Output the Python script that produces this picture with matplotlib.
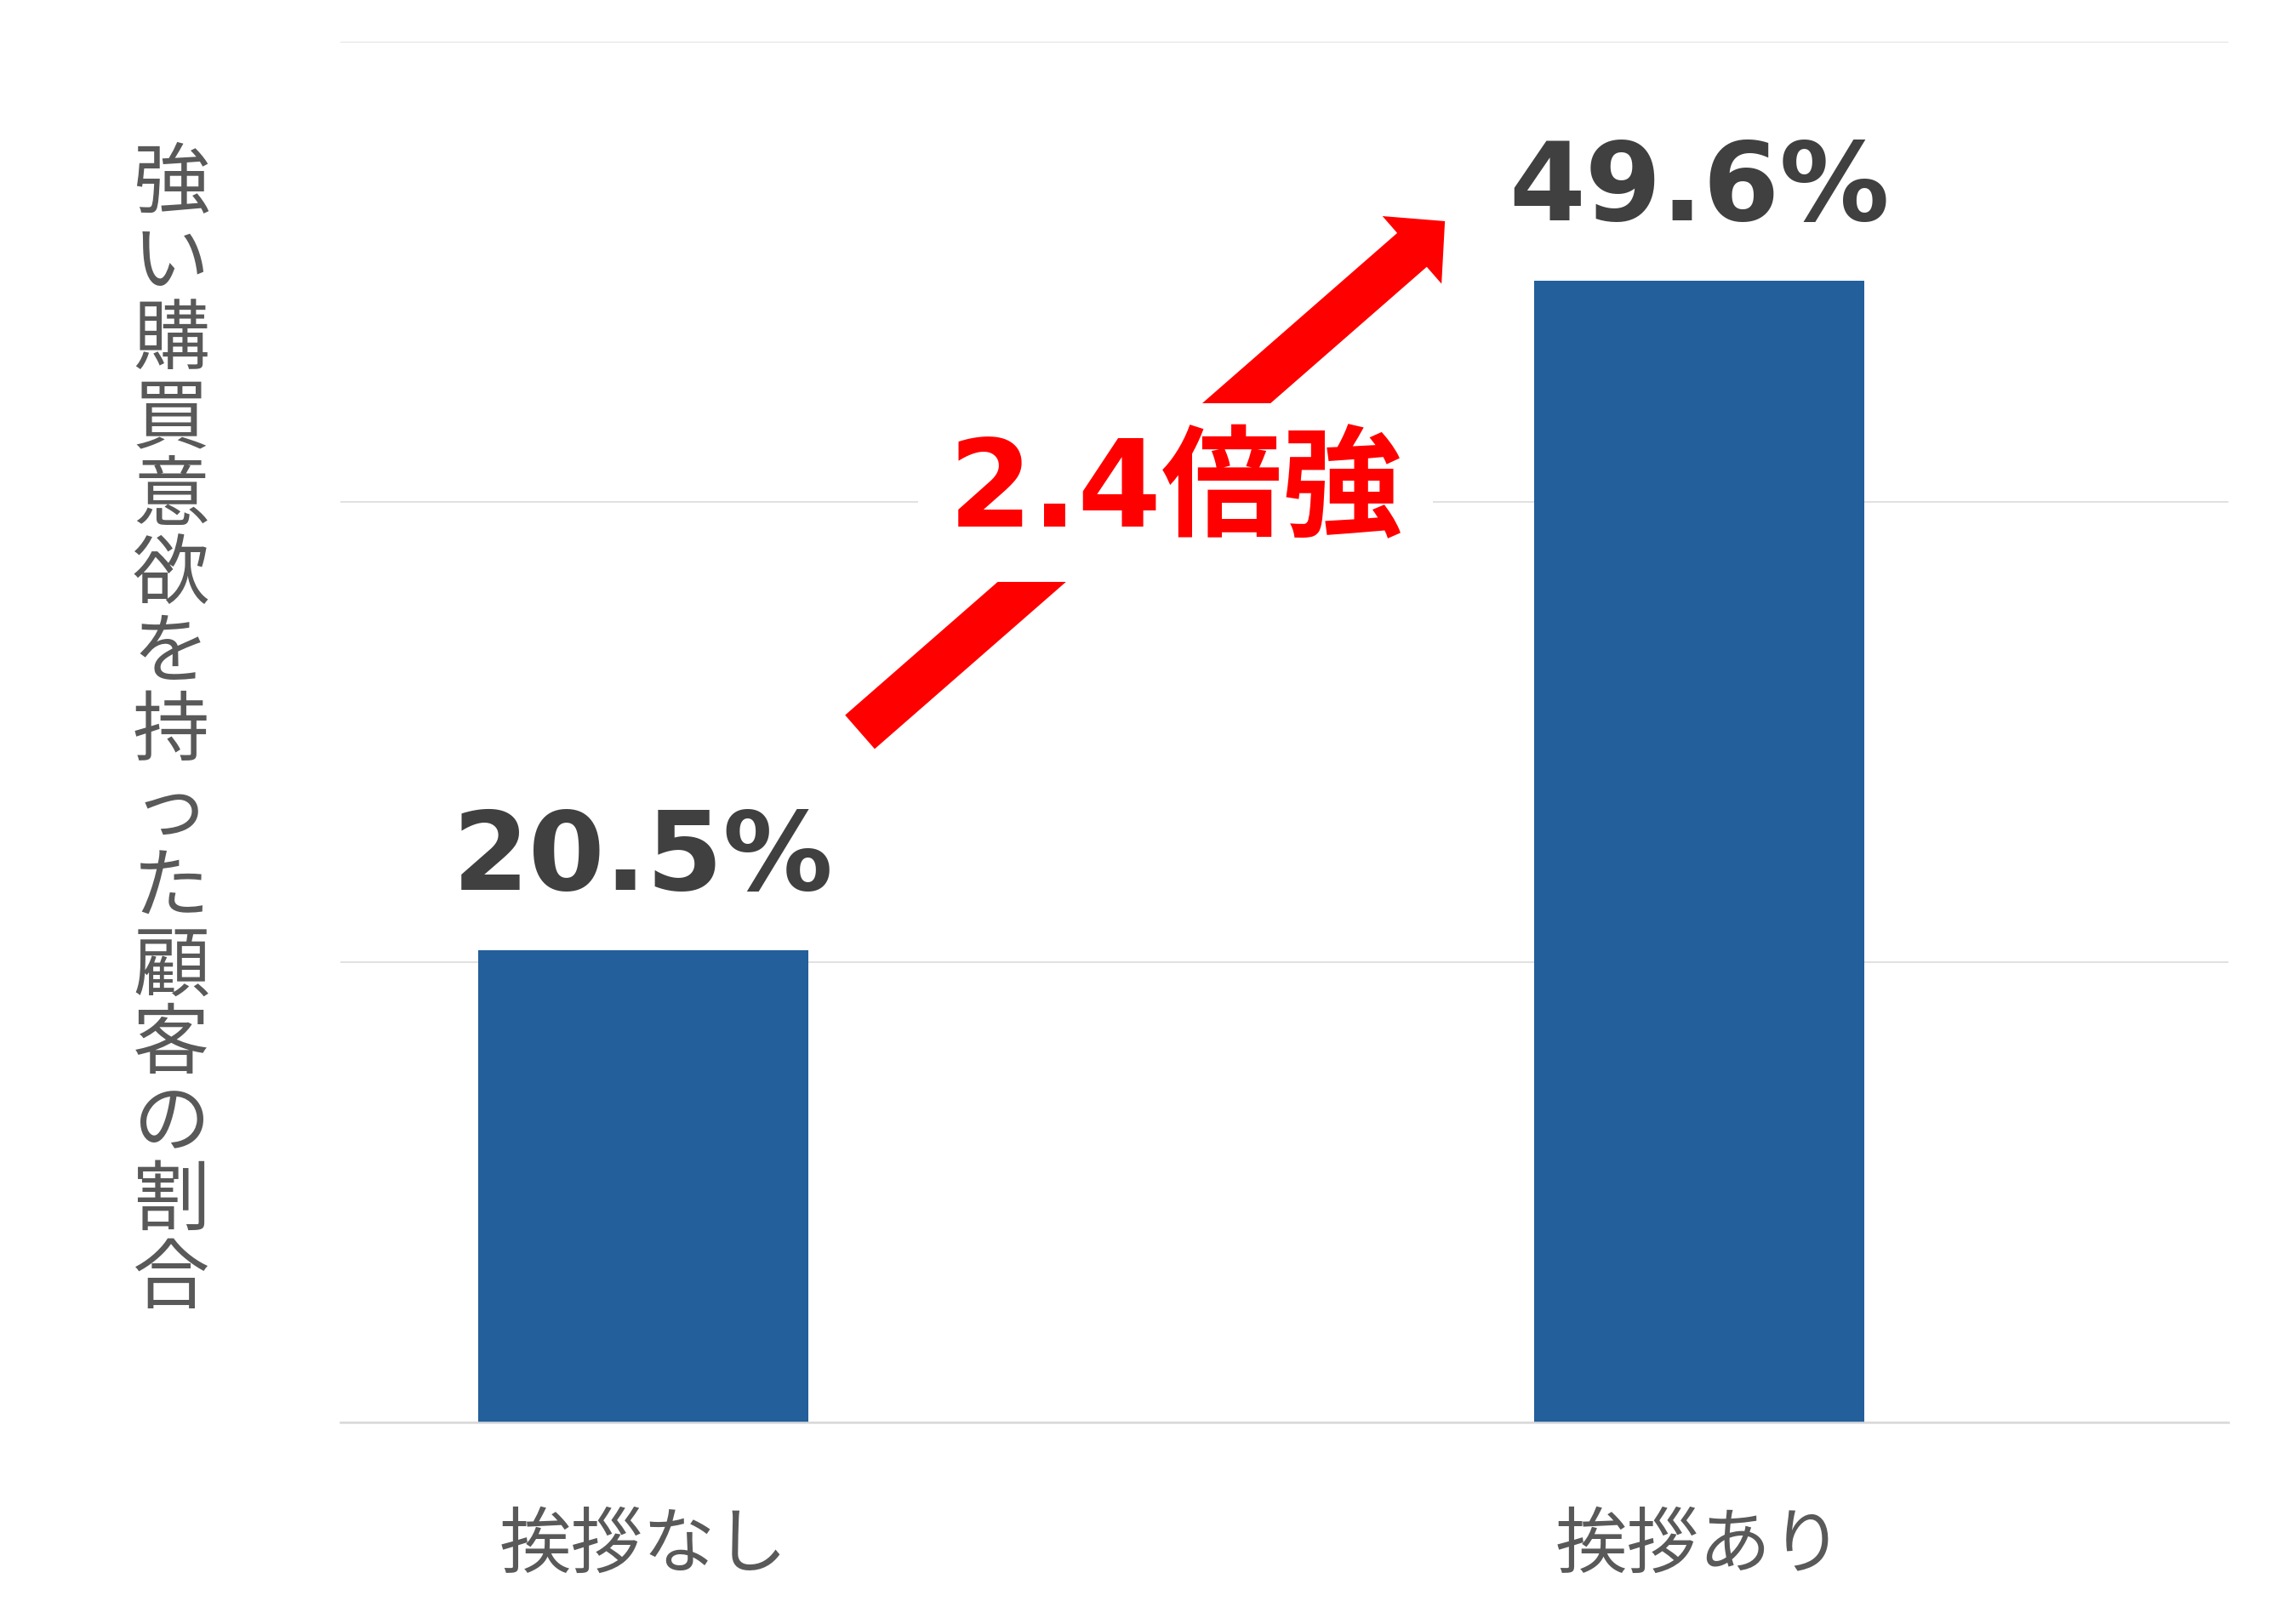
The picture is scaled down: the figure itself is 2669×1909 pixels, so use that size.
import numpy as np
import matplotlib.pyplot as plt

plt.rcParams['font.family'] = ['Noto Sans CJK JP', 'DejaVu Sans']

#-------- data --------#
categories = ['挨拶なし', '挨拶あり']
values = [20.5, 49.6]          # [%]
value_labels = ['20.5%', '49.6%']
ylabel = '強い購買意欲を持った顧客の割合'
ratio_label = '2.4倍強'

bar_color = '#225F9B'
grid_color = '#D9D9D9'
text_gray = '#595959'
label_dark = '#404040'

#-------- figure --------#
W, H = 2669, 1909
fig = plt.figure(figsize=(W / 100, H / 100), dpi=100)
ax = fig.add_axes([400 / W, 237 / H, 2219 / W, 1623 / H])

x = np.arange(len(categories))
ax.bar(x, values, width=0.313, color=bar_color, zorder=2)
ax.set_xlim(-0.287, 1.501)
ax.set_ylim(0, 60)
ax.set_yticks([0, 20, 40, 60])
ax.grid(axis='y', color=grid_color, lw=1.1, zorder=0)
ax.tick_params(left=False, bottom=False, labelleft=False, labelbottom=False)
for s in ['left', 'right', 'top']:
    ax.spines[s].set_visible(False)
ax.spines['bottom'].set_color(grid_color)
ax.spines['bottom'].set_linewidth(1.8)

# value labels above the bars
for xi, v, lab in zip(x, values, value_labels):
    ax.annotate(lab, (xi, v), xytext=(0, 32), textcoords='offset points',
                ha='center', va='bottom', fontsize=93, fontweight='bold',
                color=label_dark, family=['DejaVu Sans'])

# category labels
for xi, cat in zip(x, categories):
    ax.text(xi, -5.4, cat, ha='center', va='center', fontsize=61,
            color=text_gray)

# y label, one upright character per line
for i, ch in enumerate(ylabel):
    fig.text(201 / W, 1 - (218 + i * 92) / H, ch, ha='center', va='center',
             fontsize=65, color=text_gray)

#-------- arrow + ratio text --------#
ax.annotate('', xy=(0.759, 52.2), xytext=(0.205, 30.0),
            arrowprops=dict(arrowstyle='simple,head_length=37,head_width=76,tail_width=38',
                            mutation_scale=1, color='#FF0000', lw=0,
                            shrinkA=0, shrinkB=0), zorder=3)
ax.text(0.504, 40.4, ratio_label, ha='center', va='center', fontsize=102,
        fontweight='bold', color='#FF0000', family=['DejaVu Sans', 'Noto Sans CJK JP'],
        bbox=dict(boxstyle='square,pad=0.25', fc='white', ec='none'), zorder=4)

plt.savefig('out.png', dpi=100)
